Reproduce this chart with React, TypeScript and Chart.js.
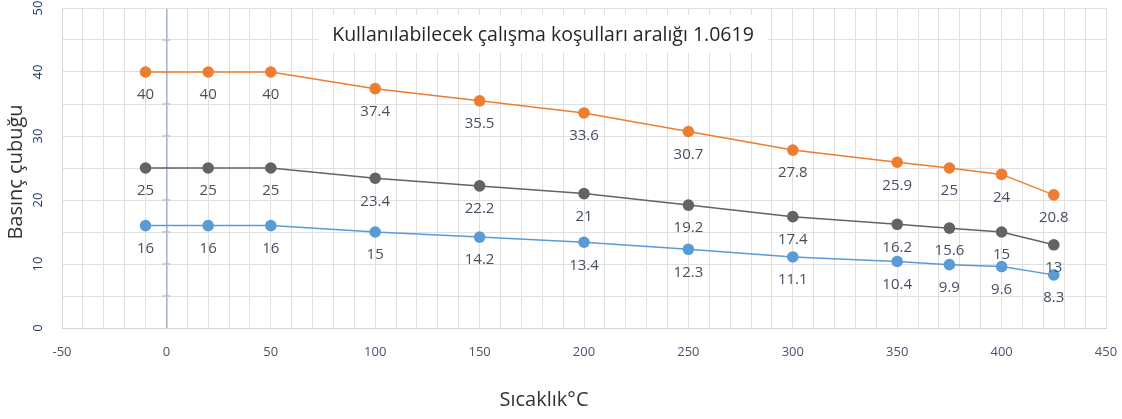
import React, { useEffect, useRef } from 'react';
import { Chart, registerables } from 'chart.js';

Chart.register(...registerables);

const temperatures = [-10, 20, 50, 100, 150, 200, 250, 300, 350, 375, 400, 425];
const orangeSeries = [40, 40, 40, 37.4, 35.5, 33.6, 30.7, 27.8, 25.9, 25, 24, 20.8];
const graySeries = [25, 25, 25, 23.4, 22.2, 21, 19.2, 17.4, 16.2, 15.6, 15, 13];
const blueSeries = [16, 16, 16, 15, 14.2, 13.4, 12.3, 11.1, 10.4, 9.9, 9.6, 8.3];
const xTickLabels = [-50, 0, 50, 100, 150, 200, 250, 300, 350, 400, 450];
const yTickLabels = [0, 10, 20, 30, 40, 50];
const chartTitle = 'Kullanılabilecek çalışma koşulları aralığı 1.0619';
const xTitle = 'Sıcaklık°C';
const yTitle = 'Basınç çubuğu';

const seriesColors = ['#ED7D31', '#636363', '#5B9BD5'];
const FONT = '"Open Sans", "DejaVu Sans", sans-serif';

const overlayPlugin = {
  id: 'overlay',
  beforeDatasetsDraw(chart: any) {
    const { ctx } = chart;
    const xs = chart.scales.x;
    const ys = chart.scales.y;
    const x0 = xs.getPixelForValue(0);
    ctx.save();
    ctx.strokeStyle = '#a9b6c7';
    ctx.lineWidth = 1.2;
    for (let v = 5; v < 50; v += 5) {
      const y = ys.getPixelForValue(v);
      ctx.beginPath();
      ctx.moveTo(x0 - 4, y);
      ctx.lineTo(x0 + 4, y);
      ctx.stroke();
    }
    ctx.restore();
  },
  afterDatasetsDraw(chart: any) {
    const { ctx } = chart;
    ctx.save();
    ctx.font = `15px ${FONT}`;
    ctx.fillStyle = '#44505f';
    ctx.textAlign = 'center';
    ctx.textBaseline = 'middle';
    chart.data.datasets.forEach((ds: any, di: number) => {
      const meta = chart.getDatasetMeta(di);
      meta.data.forEach((pt: any, i: number) => {
        const val = ds.data[i].y;
        ctx.fillText(String(val), pt.x, pt.y + 23);
      });
    });
    ctx.restore();
  },
  afterDraw(chart: any) {
    const { ctx } = chart;
    ctx.save();
    // title box
    ctx.font = `19.5px ${FONT}`;
    const tw = ctx.measureText(chartTitle).width;
    const cx = 543;
    const cy = 35;
    ctx.fillStyle = '#ffffff';
    ctx.fillRect(cx - tw / 2 - 14, 15, tw + 28, 38);
    ctx.fillStyle = '#262626';
    ctx.textAlign = 'center';
    ctx.textBaseline = 'middle';
    ctx.fillText(chartTitle, cx, cy);
    // x title
    ctx.font = `20px ${FONT}`;
    ctx.fillStyle = '#333333';
    ctx.fillText(xTitle, 544, 400);
    // y title
    ctx.translate(16, 172);
    ctx.rotate(-Math.PI / 2);
    ctx.fillText(yTitle, 0, 0);
    ctx.restore();
  },
};

export default function App() {
  const canvasRef = useRef<HTMLCanvasElement | null>(null);

  useEffect(() => {
    document.body.style.margin = '0';
    const canvas = canvasRef.current;
    if (!canvas) return;
    const makeData = (arr: number[]) => temperatures.map((t, i) => ({ x: t, y: arr[i] }));
    const chart = new Chart(canvas, {
      type: 'line',
      data: {
        datasets: [orangeSeries, graySeries, blueSeries].map((arr, i) => ({
          data: makeData(arr),
          borderColor: seriesColors[i],
          backgroundColor: seriesColors[i],
          pointBackgroundColor: seriesColors[i],
          pointBorderWidth: 0,
          pointRadius: 5.8,
          borderWidth: 1.5,
          tension: 0,
          fill: false,
        })),
      },
      options: {
        responsive: false,
        animation: false,
        devicePixelRatio: 1,
        layout: { padding: { top: 8, right: 16, left: 0, bottom: 0 } },
        plugins: {
          legend: { display: false },
          tooltip: { enabled: false },
        },
        scales: {
          x: {
            type: 'linear',
            min: -50,
            max: 450,
            afterFit: (s: any) => {
              s.height = 91;
              s.paddingLeft = 0;
              s.paddingRight = 0;
            },
            ticks: {
              stepSize: 10,
              autoSkip: false,
              maxRotation: 0,
              minRotation: 0,
              padding: 16,
              color: '#44546a',
              font: { family: FONT, size: 13 },
              callback: (v: any) => (xTickLabels.includes(Number(v)) ? String(v) : ''),
            },
            grid: {
              drawTicks: false,
              color: (c: any) => (c.tick && c.tick.value === 0 ? '#a9b6c7' : '#e0e0e0'),
              lineWidth: (c: any) => (c.tick && c.tick.value === 0 ? 1.6 : 1),
            },
            border: { display: true, color: '#d6d6d6' },
          },
          y: {
            type: 'linear',
            min: 0,
            max: 50,
            afterFit: (s: any) => {
              s.width = 62;
              s.paddingTop = 0;
              s.paddingBottom = 0;
            },
            ticks: {
              stepSize: 5,
              autoSkip: false,
              minRotation: 90,
              maxRotation: 90,
              crossAlign: 'center',
              padding: 16,
              color: '#1f3864',
              font: { family: FONT, size: 13 },
              callback: (v: any) => (yTickLabels.includes(Number(v)) ? String(v) : ''),
            },
            grid: { drawTicks: false, color: '#e0e0e0' },
            border: { display: true, color: '#d6d6d6' },
          },
        },
      },
      plugins: [overlayPlugin],
    } as any);
    return () => chart.destroy();
  }, []);

  return (
    <div style={{ position: 'absolute', left: 0, top: 0, width: 1122, height: 419, background: '#fff' }}>
      <canvas ref={canvasRef} width={1122} height={419} />
    </div>
  );
}
